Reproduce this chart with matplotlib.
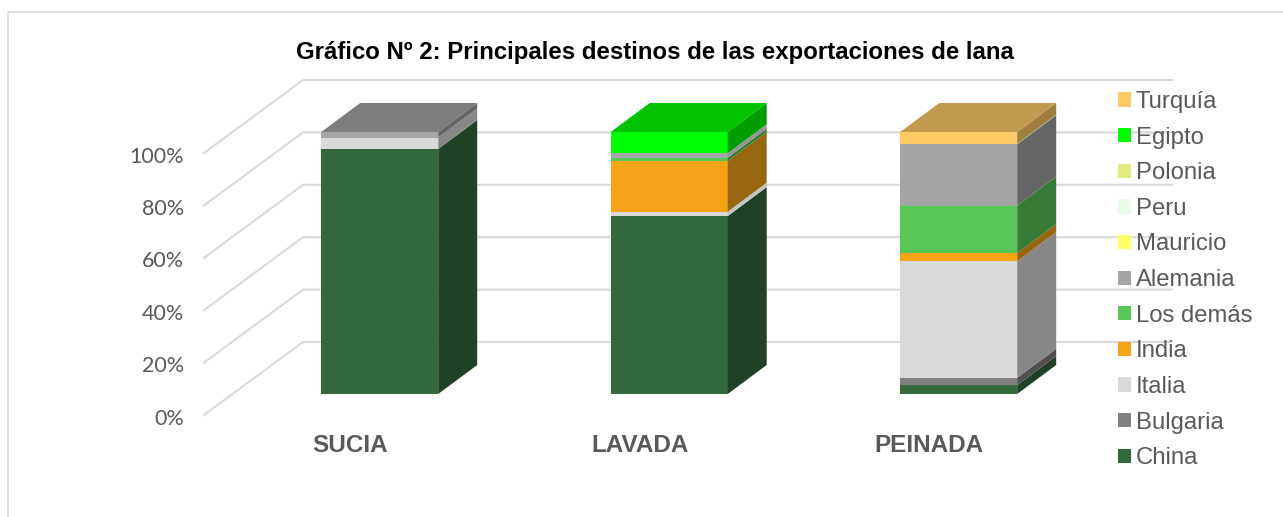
import matplotlib
matplotlib.use("Agg")
import matplotlib.pyplot as plt
from matplotlib.patches import Patch
import numpy as np

productos = ["SUCIA", "LAVADA", "PEINADA"]
destinos = ["China", "Bulgaria", "Italia", "India", "Los demás", "Alemania",
            "Mauricio", "Peru", "Polonia", "Egipto", "Turquía"]
colores = ["#33693D", "#7F7F7F", "#D9D9D9", "#F4A416", "#57C757", "#A5A5A5",
           "#FFFF66", "#E8FBE8", "#E2E97E", "#00FF00", "#FFC966"]

# % por destino, en el orden SUCIA, LAVADA, PEINADA
china = [93.5, 67.9, 3.4]
bulgaria = [0, 0, 2.8]
italia = [4.4, 1.7, 44.5]
india = [0, 19.3, 3.1]
demas = [0, 1.3, 18.1]
alemania = [2.1, 1.7, 23.4]
mauricio = [0, 0, 0.3]
peru = [0, 0, 0]
polonia = [0, 0, 0]
egipto = [0, 8.1, 0]
turquia = [0, 0, 4.4]
valores = [china, bulgaria, italia, india, demas, alemania,
           mauricio, peru, polonia, egipto, turquia]

ticks = [0, 20, 40, 60, 80, 100]

W, H = 1283, 517
px_x = 289.5       # pixeles entre barras
px_y = 2.62        # pixeles por 1 %
x0 = 379.7         # centro de SUCIA
y0 = 394           # base de las barras

fig = plt.figure(figsize=(W / 100, H / 100), dpi=100)
ax = fig.add_axes([0, 0, 1, 1])
ax.set_xlim(-x0 / px_x, (W - x0) / px_x)
ax.set_ylim((y0 - H) / px_y, y0 / px_y)
ax.axis("off")


def xp(p):
    return (p - x0) / px_x


def yp(p):
    return (y0 - p) / px_y


def tono(c, f):
    r = np.array(matplotlib.colors.to_rgb(c)) * f
    return tuple(r)


# marco del grafico
ax.plot([xp(8), xp(8), xp(W + 5)], [yp(H + 5), yp(12), yp(12)], color="#D9D9D9", lw=1.2)

# rejilla: pared del fondo y diagonal del piso
ancho = 117 / px_x
dx = 39 / px_x
dy = 29 / px_y
for t in ticks:
    ya = t * 262 / 100 / px_y - 21 / px_y
    yb = t * 262 / 100 / px_y + 52 / px_y
    ax.plot([xp(204), xp(303), xp(1172)], [ya, yb, yb], color="#D9D9D9", lw=1.5, zorder=1)
    ax.text(xp(184), ya - 1.4, "%d%%" % t, ha="right", va="center",
            fontsize=15.5, color="#595959", family="Lato")

# barras apiladas en 3D
pos = np.arange(len(productos))
base = np.zeros(len(productos))
for serie, c, nombre in zip(valores, colores, destinos):
    serie = np.array(serie, dtype=float)
    ax.bar(pos, serie, ancho, bottom=base, color=c, lw=0, zorder=3)
    for i in pos:
        if serie[i] == 0:
            continue
        xr = i + ancho / 2
        ya = base[i]
        yb = base[i] + serie[i]
        # las franjas grises muy finas se ven claras en el lateral
        f = 0.62
        if nombre in ("Italia", "Alemania") and serie[i] < 2:
            f = 0.9
        ax.fill([xr, xr + dx, xr + dx, xr], [ya, ya + dy, yb + dy, yb],
                color=tono(c, f), lw=0, zorder=3)
        if abs(yb - 100) < 0.01:
            xl = i - ancho / 2
            ax.fill([xl, xr, xr + dx, xl + dx], [yb, yb, yb + dy, yb + dy],
                    color=tono(c, 0.76), lw=0, zorder=3)
    base = base + serie

for i, nombre in enumerate(productos):
    ax.text(i - 29.5 / px_x, yp(446), nombre, ha="center", va="center", fontsize=17.5,
            fontweight="bold", color="#595959", family="Liberation Sans")

ax.text(xp(654.5), yp(53), "Gráfico Nº 2: Principales destinos de las exportaciones de lana",
        ha="center", va="center", fontsize=17.3, fontweight="bold", color="black",
        family="Liberation Sans")

handles = [Patch(color=c, label=d, lw=0) for c, d in zip(colores, destinos)][::-1]
ax.legend(handles=handles, loc="upper left", bbox_to_anchor=(1118 / W, 1 - 91 / H),
          bbox_transform=fig.transFigure, frameon=False, borderpad=0, borderaxespad=0,
          prop={"family": "Liberation Sans", "size": 17.2}, labelcolor="#595959",
          handlelength=0.54, handleheight=0.54, handletextpad=0.2, labelspacing=0.57)

fig.savefig("out.png", dpi=100)
